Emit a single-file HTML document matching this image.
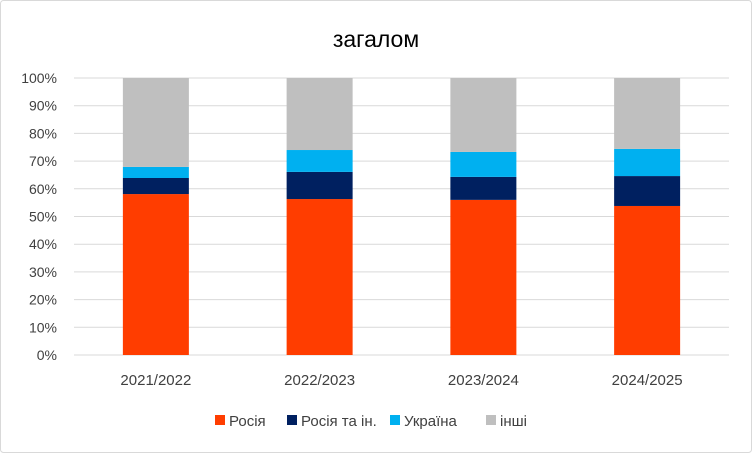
<!DOCTYPE html>
<html><head><meta charset="utf-8"><style>
body{margin:0;background:#fff;font-family:"Liberation Sans",sans-serif}
svg text{font-family:"Liberation Sans","DejaVu Sans",sans-serif;fill:#404040}
</style></head><body>
<svg id="chart" width="752" height="453">
<rect x="0.5" y="0.5" width="751" height="452" rx="3" fill="#fff" stroke="#d9d9d9"/>
<text x="376" y="47" text-anchor="middle" font-size="23" style="fill:#000">загалом</text>
<g id="grid"></g><g id="bars"></g><g id="xl"></g><g id="legend"></g>
</svg>
<script>
const categories=["2021/2022","2022/2023","2023/2024","2024/2025"];
const russia=[58.1,56.3,56.0,53.8];
const russiaOthers=[5.8,9.8,8.3,10.8];
const ukraine=[4.0,7.9,9.0,9.8];
const others=[32.1,26.0,26.7,25.6];
const yTicks=[0,10,20,30,40,50,60,70,80,90,100];
const seriesNames=["Росія","Росія та ін.","Україна","інші"];
const colors=["#ff3d00","#002060","#00b0f0","#bfbfbf"];
const NS="http://www.w3.org/2000/svg";
const x0=74,x1=729,y0=355,y1=78;
const y=v=>y0-(v/100)*(y0-y1);
const bw=(x1-x0)/categories.length;
const xc=i=>x0+bw*(i+0.5);
function mk(t,a,p){const e=document.createElementNS(NS,t);for(const k in a)e.setAttribute(k,a[k]);p.appendChild(e);return e;}
const grid=document.getElementById('grid');
yTicks.forEach(t=>{
 const l=mk('line',{x1:x0,x2:x1,y1:y(t),y2:y(t),stroke:'#d9d9d9'},grid);
 
 
 const tx=mk('text',{x:57,y:y(t)+5,'text-anchor':'end','font-size':14},grid);
 tx.textContent=t+'%';
 
 
});
const bars=document.getElementById('bars');
const series=[russia,russiaOthers,ukraine,others];
categories.forEach((c,i)=>{
 let acc=0;
 series.forEach((s,j)=>{
  const r=mk('rect',{x:xc(i)-33,width:66,y:y(acc+s[i]),height:y(acc)-y(acc+s[i]),fill:colors[j]},bars);
  
  
  acc+=s[i];
 });
 const t=mk('text',{x:xc(i),y:385,'text-anchor':'middle','font-size':15},document.getElementById('xl'));
 t.textContent=c;
 
 
});
const lg=document.getElementById('legend');
const lx=[215,287,390,486];
seriesNames.forEach((n,j)=>{
 const r=mk('rect',{x:lx[j],y:415,width:10,height:10,fill:colors[j]},lg);
 
 
 const t=mk('text',{x:lx[j]+14,y:426,'font-size':15},lg);
 t.textContent=n;
 
 
});
</script>
</body></html>
